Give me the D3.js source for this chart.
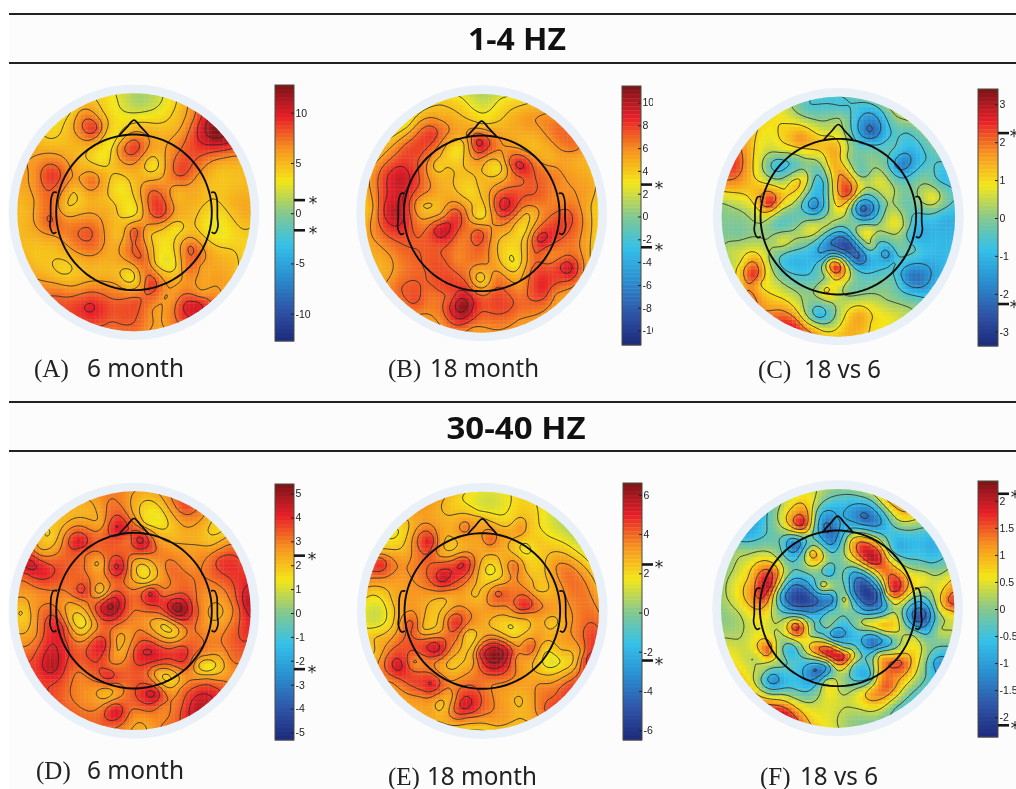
<!DOCTYPE html>
<html><head><meta charset="utf-8">
<script src="https://cdn.jsdelivr.net/npm/d3@7"></script>
<style>html,body{margin:0;padding:0;background:#fff;overflow:hidden}svg{display:block;filter:blur(.45px)}</style>
</head><body><svg id="c" width="1016" height="789"></svg>
<script>
// Readings from the picture: [x, y, value], x/y in units of a 3x crop of each panel's quadrant
const readingsA=[[410,300,1],[350,300,2.8],[480,300,2.5],[370,350,3.2],[340,400,3.3],[300,470,3.2],[330,430,3.2],[430,350,3.5],[520,340,4.5],[640,395,12.5],[600,380,10],[680,430,9.5],[580,350,7.5],[640,440,9],[530,380,5.5],[700,470,6],[280,385,8.8],[240,340,6.5],[230,420,5.5],[300,340,5],[180,370,4],[150,420,4.5],[210,330,4],[400,440,8.8],[400,490,6.2],[350,440,6],[450,430,6],[458,492,3.3],[540,515,8.5],[500,480,6.5],[590,530,6],[650,500,5],[720,520,4.8],[150,520,9],[100,520,6.5],[190,560,6.5],[150,600,7.5],[150,660,8],[100,600,6],[70,640,5],[200,620,4.5],[270,540,7.5],[240,510,5.5],[300,590,5],[220,570,4.5],[355,555,3.3],[400,530,5],[300,520,5.5],[398,632,3.2],[340,620,4.8],[440,700,5],[460,600,8.8],[480,640,8.8],[440,560,7],[520,610,6],[530,580,5],[560,590,5.5],[620,600,4.5],[700,600,5.3],[740,640,5.5],[402,693,8.5],[360,700,5],[268,692,8],[230,640,5.8],[230,720,7.5],[290,740,7],[160,720,5.5],[110,720,5],[620,670,3],[660,700,3],[525,688,3.2],[570,650,5],[600,720,5.5],[570,740,8],[560,800,7.5],[530,700,4.2],[480,700,4],[500,775,2.7],[470,790,4],[530,800,4.5],[600,800,6],[680,760,4.8],[650,830,6],[600,880,6.5],[420,770,8],[390,760,7.5],[440,810,7.5],[340,780,5.5],[300,800,5],[320,750,5.5],[390,825,3.3],[350,850,6],[420,850,6],[447,850,9],[480,850,7],[270,920,9.8],[220,860,6.2],[150,780,4.5],[190,810,4],[110,770,4.5],[170,870,7.2],[240,970,8],[330,880,7.3],[330,950,8],[400,970,7.8],[400,900,8.2],[460,930,6],[500,890,6],[560,910,9.8],[600,900,9],[530,950,8],[480,970,6]];
const readingsB=[[425,295,1.5],[370,300,3],[480,300,3],[425,335,2.8],[425,365,3.8],[300,300,4],[540,310,4],[200,370,3.5],[150,420,4.5],[120,470,5.5],[300,340,4.8],[550,360,5.5],[650,390,6.8],[700,440,6.3],[230,370,5.5],[270,400,8],[200,440,7.5],[180,490,8.2],[180,535,9.5],[130,510,7.5],[220,480,7.5],[160,630,10],[160,590,9],[120,620,7.5],[90,620,5],[90,710,5.5],[190,660,8.5],[150,700,7.5],[200,750,7],[130,780,5],[340,445,3],[330,400,5.5],[300,490,4.2],[295,492,3.3],[375,430,4.5],[320,510,4.5],[270,480,5.5],[415,430,9],[400,410,7.5],[450,410,6.5],[410,470,6.3],[467,497,3.3],[440,480,4.5],[500,500,5.5],[430,530,4.5],[540,498,9],[510,490,7.5],[570,510,7.5],[540,530,7],[600,560,7],[580,590,7],[570,440,4.5],[620,470,4.8],[530,430,5],[640,510,6],[720,500,4.8],[700,470,5],[750,560,5],[740,620,4.8],[680,640,7.5],[720,640,6],[650,600,6],[700,600,6],[385,567,3.3],[400,560,4],[340,570,4.5],[280,600,4.5],[240,615,4.5],[260,570,6],[300,640,5.5],[417,640,3],[400,620,4.2],[440,600,5],[487,620,9],[470,590,7.5],[520,630,7.2],[480,660,6.5],[345,640,8],[300,690,9.5],[330,670,8.5],[240,680,6.5],[270,720,7.5],[350,720,6.5],[290,730,7.5],[415,700,7.8],[370,700,6.3],[460,690,5.5],[543,687,3.2],[560,640,4.2],[510,690,4.5],[480,720,4.2],[523,733,3.5],[520,785,2.8],[520,820,4.5],[460,730,5],[560,740,5.5],[597,715,9],[600,680,7.2],[580,760,7],[620,760,6],[680,800,9.5],[660,820,8],[700,770,7],[720,810,6.5],[660,760,6.3],[740,780,5],[640,880,6],[600,860,8.5],[580,810,7.5],[620,890,7],[420,835,3.5],[390,780,6.5],[350,770,6],[440,790,5.8],[470,830,6.5],[380,840,6.8],[362,915,11],[362,880,9],[362,950,9],[330,890,7.5],[410,930,7.5],[300,960,6],[430,960,6.5],[460,880,7.5],[500,920,7.5],[530,950,6],[540,860,6],[300,860,7.5],[270,880,6.5],[220,900,7.5],[170,860,6.8],[240,950,5.5],[180,920,6],[130,820,5],[470,980,6],[400,985,5.5],[320,780,7],[280,800,7.5],[250,820,7]];
const readingsC=[[480,355,.2],[480,310,-.7],[380,320,-.5],[570,395,-2.3],[560,350,-1.7],[530,330,-.8],[610,400,-1],[640,360,-.1],[560,440,-.3],[680,390,-.5],[730,450,-.6],[350,410,1.7],[300,370,1],[400,440,1.2],[330,400,1.3],[430,385,.5],[260,390,.8],[420,350,0],[200,430,1.4],[160,500,2.3],[145,560,1.4],[180,480,2],[220,520,1],[290,495,-1],[250,470,.3],[340,490,-.5],[300,450,.5],[230,500,.7],[290,540,.3],[345,555,1.3],[310,570,1],[370,530,.8],[330,590,.9],[265,603,2.6],[240,590,1.7],[220,620,.8],[300,620,.6],[130,610,.2],[130,650,0],[170,700,-.1],[250,680,.1],[150,750,.5],[400,615,-1.9],[420,550,-1],[410,510,-.5],[380,590,-.7],[420,590,-1],[370,640,-.4],[290,665,-.5],[340,660,-.3],[450,490,1.3],[470,450,1.4],[455,420,1.2],[420,470,.6],[500,470,.2],[497,570,2.4],[480,520,1.8],[520,590,.9],[470,620,1],[500,430,.3],[540,510,-.4],[590,540,.7],[620,580,.5],[560,490,0],[620,510,-.2],[660,490,-2],[640,470,-1],[690,520,-.7],[640,440,-.5],[545,630,-2.4],[590,620,-1],[530,600,-.8],[520,655,-.3],[570,655,-.8],[610,625,0],[637,657,.8],[640,610,.2],[670,680,.2],[670,600,-.3],[700,650,-.7],[690,700,-1],[560,690,.9],[570,730,.4],[530,700,.2],[395,685,.8],[360,690,.4],[440,670,.4],[460,640,.5],[305,720,.7],[350,730,-.1],[260,720,.2],[495,735,-2.9],[450,730,-2.2],[530,770,-2.5],[480,700,-1.7],[560,770,-1.3],[580,720,-.3],[430,770,-1],[618,763,-1.8],[600,770,-1.2],[640,790,-.5],[650,740,-.2],[700,750,-.5],[755,590,.8],[740,510,-.3],[780,530,-.9],[790,650,-1.1],[770,700,-1],[720,800,-1.6],[710,830,-2.2],[670,820,-1.7],[760,840,-1.2],[640,840,-.4],[700,900,-.2],[620,900,.2],[465,798,2.6],[445,780,1],[490,780,.3],[440,830,.3],[400,840,-.3],[330,770,-1],[340,800,-.9],[400,780,-.9],[300,770,-.6],[370,850,-.2],[215,820,2.5],[220,780,1.7],[240,850,1],[175,780,.7],[270,780,.1],[280,850,.6],[180,840,1.3],[210,890,2],[438,870,1.2],[470,870,.5],[510,860,-.2],[540,810,-.7],[415,940,-1],[390,910,-.2],[450,950,-.2],[380,950,.3],[480,930,.5],[340,970,2.4],[300,930,1.8],[260,920,1.6],[400,985,1.3],[530,940,1.5],[570,970,1],[490,990,1.3],[620,950,.8]];
const readingsD=[[450,365,1.2],[430,320,1.8],[490,390,1.6],[430,390,2.1],[500,330,2.4],[550,330,3.5],[600,370,2.5],[650,405,1.6],[630,440,2.1],[690,430,2.6],[350,395,4.3],[320,330,3],[300,380,2.5],[350,350,3.4],[270,330,2.3],[200,370,2.2],[150,420,1.8],[390,350,2.6],[235,440,4.3],[200,420,3.2],[270,430,3.4],[240,470,3.2],[170,450,2.6],[420,435,4.5],[380,430,3.1],[420,400,3.2],[470,440,2.8],[350,515,4.4],[320,510,3.3],[345,470,3.4],[370,560,3],[295,505,2.3],[300,587,2],[290,550,2.7],[300,460,3.2],[250,500,3.1],[245,582,3.9],[220,560,3.2],[425,520,1.5],[400,500,2.3],[440,560,2.1],[470,490,2.8],[400,570,2.7],[510,520,3.2],[540,560,3.2],[560,500,2.7],[600,470,2.7],[450,590,4.3],[400,620,3.1],[490,590,3.1],[530,640,5.2],[480,630,3.7],[570,660,3.7],[530,590,3.4],[590,620,3],[330,635,5],[290,640,3.8],[370,650,3.5],[340,600,4],[320,680,3.5],[660,500,3.8],[620,490,3],[720,530,3.8],[690,580,3.3],[640,560,3],[745,620,4.7],[710,640,3.3],[650,650,2.2],[630,620,2.5],[730,700,3.8],[680,700,3],[600,690,2.8],[70,650,1.8],[60,600,2.5],[100,640,2.7],[110,720,3],[160,670,3.8],[190,690,3.5],[130,600,2.8],[90,510,4.5],[130,530,4],[70,540,3.3],[170,510,3.5],[120,470,2.6],[240,680,1.4],[210,630,2.2],[270,690,2.2],[250,720,2.4],[200,680,2.6],[300,745,4.2],[360,730,2.2],[350,770,2.4],[350,690,3],[445,770,4.3],[410,770,3.9],[540,770,4],[480,790,3.8],[470,740,3.3],[420,710,3.1],[490,690,1.7],[520,710,1.8],[450,680,2.4],[560,710,3],[480,720,2.4],[618,812,1.2],[590,810,2],[660,800,2.1],[620,780,2.5],[690,790,3],[560,810,3.3],[620,850,3],[498,850,1.6],[470,830,2.2],[530,860,2.2],[540,880,3],[460,895,4.4],[430,860,3.5],[480,930,3],[325,840,4],[290,840,3.4],[370,850,3.3],[330,810,3.1],[150,810,4.7],[120,800,4],[190,800,3.8],[150,750,4.2],[120,850,3.7],[190,900,3.2],[220,760,3.4],[230,830,3],[318,897,2],[280,910,2.6],[350,880,2.6],[340,945,4.3],[300,950,3.2],[390,940,3.1],[590,940,4.7],[560,930,3.9],[640,890,3.9],[530,900,3],[500,960,2.9],[430,1000,2.3],[400,960,2.7],[240,960,3.2],[340,990,3.2],[480,1000,3]];
const readingsE=[[450,315,1.1],[350,310,2],[530,315,2],[420,350,1.8],[480,370,2],[650,390,1],[690,430,1.2],[600,350,1.7],[620,420,1.8],[700,480,2.3],[535,395,3.3],[510,380,2.3],[570,400,2.2],[375,395,3.8],[350,380,3],[400,400,3],[420,360,2.5],[445,430,4],[420,440,3],[480,440,3],[262,435,5],[260,400,3.8],[230,470,3.8],[300,420,3],[200,400,2.4],[170,410,1.7],[150,460,2.5],[200,470,3],[115,500,4.8],[100,540,3.7],[150,520,3.7],[100,470,2.8],[200,520,3.4],[170,560,3],[333,462,2.4],[300,470,3],[370,460,3],[305,548,5.4],[280,530,4.5],[370,505,5],[340,540,4.7],[270,570,3.8],[330,590,3.2],[450,520,1.5],[430,560,2.3],[480,540,2.3],[410,600,2.5],[480,500,2.6],[520,510,3.9],[500,490,3],[560,520,2.4],[550,460,1.5],[590,440,2.3],[580,560,2.6],[610,520,2.5],[680,530,3.8],[650,510,3.4],[700,570,3.8],[760,570,2.9],[720,500,2.5],[470,590,4.2],[450,620,3.6],[550,630,5],[520,600,3.8],[620,640,3.3],[500,640,3.2],[560,660,3],[590,580,2.4],[640,590,2.8],[280,660,2.3],[250,700,2.5],[310,620,2.4],[300,700,3],[230,640,3.2],[340,682,4.8],[350,640,3.6],[350,730,3.5],[215,685,4.3],[200,640,3.2],[120,640,1.3],[90,680,1.2],[100,600,1.8],[150,630,2.3],[150,690,2.3],[170,610,3],[100,720,2.5],[385,720,2],[410,690,3],[400,760,3],[510,695,1.7],[460,690,2.4],[560,700,2.4],[510,730,2.8],[510,660,2.8],[633,685,2.2],[600,700,3],[650,710,3],[565,755,4.2],[540,780,3.3],[465,775,6.5],[420,770,5],[500,770,5.2],[450,740,4.5],[520,790,3.6],[400,800,3.3],[540,750,3.3],[285,760,5.5],[240,755,4.5],[320,740,4],[280,790,3.8],[220,800,3.3],[335,805,2.3],[300,820,3],[370,820,3],[635,795,1.3],[610,760,2.1],[660,770,2.5],[600,820,2.2],[690,800,2.2],[670,830,2.8],[720,770,3.3],[710,680,3.6],[750,720,4.5],[740,790,5],[175,810,5.3],[140,790,4.2],[220,850,4.5],[160,860,3.5],[240,900,3.5],[120,760,3],[100,770,2.5],[275,868,5],[310,860,3.8],[300,930,2.3],[270,950,3],[330,900,3],[372,930,5.3],[350,890,4],[420,920,4.2],[380,970,3.3],[340,950,4],[430,995,2.2],[470,990,2.7],[540,915,2.5],[500,870,3.2],[450,860,3.5],[520,840,3.5],[600,870,3.5],[560,950,2.8],[640,900,4],[680,880,4.5],[640,950,4.5],[500,950,3]];
const readingsF=[[480,300,-.3],[400,310,.4],[350,310,.7],[540,300,-.2],[620,320,.8],[660,370,.5],[720,400,-.3],[360,385,1.9],[340,350,1.1],[380,350,1],[300,380,.4],[270,430,-.2],[200,420,-.7],[230,390,-.7],[170,460,.1],[435,390,-1.6],[420,350,-.7],[450,440,-1.2],[400,370,0],[470,370,-.9],[550,365,-1.6],[520,350,-1.2],[590,380,-1.2],[640,400,-.4],[700,460,-.6],[640,460,-.6],[760,450,-.8],[500,410,-.2],[340,445,-1.6],[310,450,-.5],[380,450,-.2],[395,470,1.1],[420,490,.6],[370,490,.2],[300,490,.1],[200,490,.4],[150,520,.2],[570,490,2],[540,440,1.5],[510,430,.7],[600,470,1.4],[620,500,1.1],[680,500,-.1],[750,510,-.2],[640,570,1.9],[610,530,1.3],[680,550,.9],[620,590,1],[730,540,.5],[260,570,2],[230,580,1.6],[280,530,1.4],[210,550,1],[160,560,.5],[230,630,1.1],[250,610,1.5],[130,610,.2],[170,660,.2],[800,590,1.2],[810,620,1.6],[780,570,.6],[770,640,.3],[810,660,.5],[345,600,-2],[340,570,-1.5],[400,610,-1.7],[450,610,-1.4],[350,640,-1.3],[300,600,-.9],[350,540,-.6],[410,560,-.2],[445,530,-.8],[420,530,-.2],[470,530,-.1],[427,570,.6],[495,610,.5],[470,580,-.1],[490,660,-.3],[450,650,-.2],[440,690,.1],[540,560,-1.9],[570,610,-1.9],[520,530,-.9],[600,590,-1],[510,600,-.8],[610,640,-.7],[560,650,-.8],[500,570,-.5],[600,687,.9],[560,680,.6],[640,670,.7],[660,640,0],[620,710,.3],[530,670,.1],[710,670,-1.8],[680,650,-.9],[740,650,-1.4],[720,620,-.9],[770,700,.2],[740,710,-.5],[345,693,1.9],[320,690,.8],[370,690,.9],[290,670,.2],[330,730,.3],[290,720,.2],[260,760,1.6],[240,730,.8],[280,760,.6],[230,780,.4],[180,730,.3],[460,718,-1.3],[420,700,-.6],[500,730,-.7],[390,720,.2],[575,735,-1.6],[540,735,-.8],[620,740,-.8],[560,710,-.5],[490,760,.4],[440,765,2],[480,780,2],[400,755,1.3],[510,780,1],[450,800,.6],[770,800,-1.1],[750,840,-.5],[790,770,-.6],[730,770,.2],[700,720,.3],[660,800,1.6],[600,780,.9],[620,870,1.5],[570,890,1.1],[660,770,.7],[700,820,.6],[640,840,1.2],[580,840,.4],[530,890,.5],[680,880,.1],[640,930,-.1],[330,760,-.7],[340,810,-.4],[300,800,0],[405,825,-1.6],[370,840,-.9],[440,810,-.8],[380,880,-.5],[545,825,-.8],[520,810,-.4],[570,840,-.5],[278,852,-1.2],[255,850,-.7],[310,840,-.6],[240,830,.1],[440,860,.6],[480,880,.2],[420,880,.2],[300,900,.4],[230,890,.7],[180,830,.7],[150,760,.5],[310,950,1.9],[270,920,1.2],[350,970,1.5],[390,985,.9],[350,930,.7],[440,960,.5],[500,985,.1],[540,950,.2]];

const bandTitles=["1-4 HZ","30-40 HZ"];
const panelLetters=["(A)","(B)","(C)","(D)","(E)","(F)"];
const panelNames=["6 month","18 month","18 vs 6","6 month","18 month","18 vs 6"];
const ticksA=[10,5,0,-5,-10];
const ticksB=[10,8,6,4,2,0,-2,-4,-6,-8,-10];
const ticksC=[3,2,1,0,-1,-2,-3];
const ticksD=[5,4,3,2,1,0,-1,-2,-3,-4,-5];
const ticksE=[6,4,2,0,-2,-4,-6];
const ticksF=[2,1.5,1,0.5,0,-0.5,-1,-1.5,-2];
const levelsA=[2.7,4.4,6.1,7.8,9.5,11.2];
const levelsB=[2.9,4.3,5.7,7.1,8.5,9.9];
const levelsC=[-2.2,-1.4,-.6,.2,1,1.8];
const levelsD=[1.8,2.4,3,3.6,4.2,4.8];
const levelsE=[1.8,2.6,3.4,4.1,4.9,5.7];
const levelsF=[-1.5,-.9,-.3,.3,.9,1.5];
const starsA=[1.3,-1.7], starsB=[2.8,-2.7], starsC=[2.24,-2.27], starsD=[2.4,-2.35], starsE=[2.45,-2.45], starsF=[2.13,-2.15];
const rangeMax=[12.7,11.4,3.4,5.35,6.55,2.36];
const colorStops=["#1d2a7c","#2f55a8","#2a8fd0","#35c1ea","#86c88c","#f5e617","#f79420","#e8202a","#7a1518"];

const layout=[
 {ox:0,oy:0,cx:402,cy:637,ry:357,bar:[275,294,85,341,213.2,10.05],star:19,lab:[34,87,377,97]},
 {ox:340,oy:0,cx:425,cy:640,ry:358,bar:[622,641,86,345,216.5,11.4],star:18,clipX:653,lab:[388,430,377,109]},
 {ox:680,oy:0,cx:475,cy:650,ry:360,bar:[978,998,89,346,218,37.9],star:16,lab:[758,804,378,77]},
 {ox:0,oy:395,cx:402,cy:647,ry:358,bar:[275,294,484,740,613,23.9],star:18,lab:[36,87,779,97]},
 {ox:340,oy:395,cx:427,cy:648,ry:358,bar:[623,642,483,740,612.5,19.6],star:17,lab:[388,427,785,110]},
 {ox:680,oy:395,cx:473,cy:640,ry:358,bar:[978,998,481,737,609,54.1],star:17,lab:[760,800,785,78]}
];
const all=[
 [readingsA,ticksA,levelsA,starsA],[readingsB,ticksB,levelsB,starsB],[readingsC,ticksC,levelsC,starsC],
 [readingsD,ticksD,levelsD,starsD],[readingsE,ticksE,levelsE,starsE],[readingsF,ticksF,levelsF,starsF]];

const svg=d3.select("#c");
svg.append("rect").attr("width",1016).attr("height",789).attr("fill","#fff");
svg.append("rect").attr("x",9).attr("y",14).attr("width",1007).attr("height",775).attr("fill","#fcfcfc");
[14,63,402,451].forEach(y=>svg.append("line").attr("x1",9).attr("x2",1016).attr("y1",y).attr("y2",y).attr("stroke","#222").attr("stroke-width",2));
[[517,50,bandTitles[0],98],[516,439,bandTitles[1],139]].forEach(t=>svg.append("text").attr("x",t[0]).attr("y",t[1]).attr("text-anchor","middle")
 .attr("font-family","'Open Sans',sans-serif").attr("font-weight",700).attr("font-size",30).attr("fill","#111")
 .attr("textLength",t[3]).attr("lengthAdjust","spacingAndGlyphs").text(t[2]));

const colorT=d3.scaleLinear().domain(colorStops.map((_,i)=>i/8)).range(colorStops).clamp(true);

function solve(A,b){const n=b.length;for(let i=0;i<n;i++){let p=i;for(let r=i+1;r<n;r++)if(Math.abs(A[r][i])>Math.abs(A[p][i]))p=r;
 [A[i],A[p]]=[A[p],A[i]];[b[i],b[p]]=[b[p],b[i]];for(let r=i+1;r<n;r++){const f=A[r][i]/A[i][i];if(!f)continue;for(let c=i;c<n;c++)A[r][c]-=f*A[i][c];b[r]-=f*b[i];}}
 const x=new Float64Array(n);for(let i=n-1;i>=0;i--){let s=b[i];for(let c=i+1;c<n;c++)s-=A[i][c]*x[c];x[i]=s/A[i][i];}return x;}
const green=r2=>r2<=0?0:r2*(0.5*Math.log(r2)-1);

all.forEach((p,idx)=>{
 const [pts,ticks,levels,stars]=p, L=layout[idx], M=rangeMax[idx];
 const sx=d3.scaleLinear().domain([0,3]).range([L.ox,L.ox+1]), sy=d3.scaleLinear().domain([0,3]).range([L.oy,L.oy+1]);
 const rx=350,ry=L.ry;
 // biharmonic spline through the readings
 const nx=pts.map(d=>(d[0]-L.cx)/350), ny=pts.map(d=>(d[1]-L.cy)/350), mean=d3.mean(pts,d=>d[2]);
 const A=pts.map((_,i)=>pts.map((_,j)=>{const dx=nx[i]-nx[j],dy=ny[i]-ny[j];return green(dx*dx+dy*dy)+(i==j?1e-3:0);}));
 const w=solve(A,pts.map(d=>d[2]-mean));
 const n=134, x0=L.cx-375, y0=L.cy-385, stepX=750/(n-1), stepY=770/(n-1);
 const vals=new Float64Array(n*n);
 for(let j=0;j<n;j++)for(let i=0;i<n;i++){const X=(x0+i*stepX-L.cx)/350,Y=(y0+j*stepY-L.cy)/350;let s=mean;
  for(let k=0;k<nx.length;k++){const dx=X-nx[k],dy=Y-ny[k];s+=w[k]*green(dx*dx+dy*dy);}vals[j*n+i]=s;}
 const color=d3.scaleLinear().domain([-M,M]).range([0,1]).clamp(true);
 const g=svg.append("g");
 const clipId="disc"+idx;
 svg.append("clipPath").attr("id",clipId).append("ellipse").attr("cx",sx(L.cx)).attr("cy",sy(L.cy)).attr("rx",rx/3).attr("ry",ry/3);
 g.append("ellipse").attr("cx",sx(L.cx)).attr("cy",sy(L.cy)).attr("rx",(rx+26)/3).attr("ry",(ry+26)/3).attr("fill","#e9f0f8");
 const cells=[];
 for(let j=0;j<n-1;j+=2)for(let i=0;i<n-1;i+=2){const cxx=x0+(i+.5)*stepX,cyy=y0+(j+.5)*stepY;
  if(((cxx-L.cx)/(rx+12))**2+((cyy-L.cy)/(ry+12))**2>1)continue;cells.push({x:x0+i*stepX,y:y0+j*stepY,v:vals[j*n+i]});}
 const map=g.append("g").attr("clip-path",`url(#${clipId})`);
 map.selectAll("rect").data(cells).join("rect").attr("x",d=>sx(d.x)).attr("y",d=>sy(d.y))
  .attr("width",stepX*2/3+.4).attr("height",stepY*2/3+.4).attr("fill",d=>colorT(color(d.v)));
 const conts=d3.contours().size([n,n]).smooth(true).thresholds(levels)(Array.from(vals));
 const path=d3.geoPath(d3.geoTransform({point(x,y){this.stream.point(sx(x0+(x-.5)*stepX),sy(y0+(y-.5)*stepY));}}));
 map.selectAll("path").data(conts).join("path").attr("d",path).attr("fill","none").attr("stroke","#2b2b2b").attr("stroke-width",1).attr("stroke-opacity",.85);
 // head, nose, ears
 const hx=d3.scaleLinear().domain([-1,1]).range([sx(L.cx-350),sx(L.cx+350)]), hy=d3.scaleLinear().domain([-1,1]).range([sy(L.cy-350),sy(L.cy+350)]);
 const headR=.667;
 const line=d3.line().x(d=>hx(d[0])).y(d=>hy(d[1]));
 const head=d3.range(0,361,4).map(a=>[headR*Math.cos(a*Math.PI/180),headR*Math.sin(a*Math.PI/180)]);
 g.append("path").attr("d",line(head)).attr("fill","none").attr("stroke","#0b0b0b").attr("stroke-width",1.9);
 g.append("path").attr("d",d3.line().curve(d3.curveCatmullRom).x(d=>hx(d[0])).y(d=>hy(d[1]))([[-.125,-.66],[-.06,-.73],[0,-.79],[.06,-.73],[.125,-.66]])).attr("fill","none").attr("stroke","#0b0b0b").attr("stroke-width",1.7);
 [-1,1].forEach(s=>{const e=[[.66,-.17],[.69,-.17],[.71,-.12],[.715,.05],[.72,.12],[.69,.18],[.665,.17]].map(d=>[s*d[0],d[1]]);
  g.append("path").attr("d",d3.line().curve(d3.curveCatmullRom).x(d=>hx(d[0])).y(d=>hy(d[1]))(e)).attr("fill","none").attr("stroke","#0b0b0b").attr("stroke-width",1.7);});
 // colour bar
 const [bx0,bx1,by0,by1,b0,pxPerUnit]=L.bar;
 const y=d3.scaleLinear().domain([0,1]).range([b0,b0-pxPerUnit]);
 const vTop=y.invert(by0), vBot=y.invert(by1);
 const bands=d3.range(64);
 const bandY=d3.scaleBand().domain(bands).range([by0,by1]);
 g.selectAll("rect.b").data(bands).join("rect").attr("class","b").attr("x",bx0).attr("width",bx1-bx0).attr("y",d=>bandY(d)).attr("height",bandY.bandwidth()+.4)
  .attr("fill",d=>colorT(1-(d+.5)/64));
 g.append("rect").attr("x",bx0).attr("y",by0).attr("width",bx1-bx0).attr("height",by1-by0).attr("fill","none").attr("stroke","#4a4a3c").attr("stroke-width",1);
 const ax=g.append("g").attr("transform",`translate(${bx1},0)`).call(d3.axisRight(y).tickValues(ticks).tickSizeInner(-3).tickSizeOuter(0).tickPadding(1.5).tickFormat(d=>String(d)));
 ax.select(".domain").remove();
 ax.selectAll("line").attr("stroke","#222");
 ax.selectAll("text").attr("font-family","'Liberation Sans',sans-serif").attr("font-size",10.5).attr("fill","#222");
 if(L.clipX){const id="axc"+idx;svg.append("clipPath").attr("id",id).append("rect").attr("x",bx1-6).attr("y",by0-5).attr("width",L.clipX-bx1+6).attr("height",by1-by0+10);ax.attr("clip-path",null);
  ax.selectAll("text").attr("clip-path",null);const wrap=g.append("g").attr("clip-path",`url(#${id})`);wrap.node().appendChild(ax.node());}
 stars.forEach(v=>{
  g.append("line").attr("x1",bx1).attr("x2",bx1+11).attr("y1",y(v)).attr("y2",y(v)).attr("stroke","#161616").attr("stroke-width",2.6);
  g.append("text").attr("x",bx1+L.star).attr("y",y(v)+9).attr("text-anchor","middle").attr("font-family","'DejaVu Sans',sans-serif").attr("font-size",17).attr("fill","#222").text("*");
 });
 // captions
 const [lx,nxx,ly,lw]=L.lab;
 g.append("text").attr("x",lx).attr("y",ly).attr("font-family","'Liberation Serif',serif").attr("font-size",25).attr("fill","#222").text(panelLetters[idx]);
 g.append("text").attr("x",nxx).attr("y",ly).attr("font-family","'Noto Sans',sans-serif").attr("font-size",25).attr("fill","#222")
  .attr("textLength",lw).attr("lengthAdjust","spacingAndGlyphs").text(panelNames[idx]);
});
</script></body></html>
